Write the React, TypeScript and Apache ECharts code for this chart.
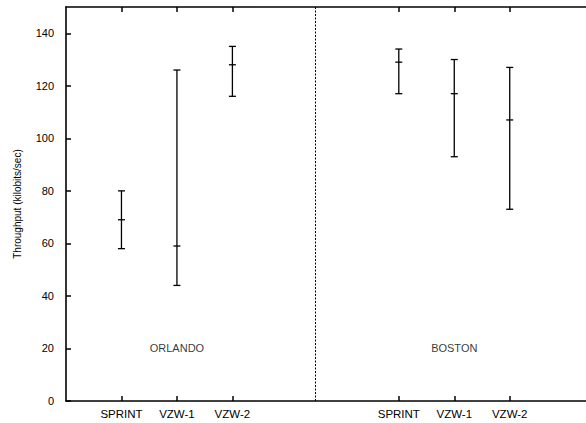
import React, { useEffect, useRef } from "react";
import * as echarts from "echarts";

const categories = ["SPRINT", "VZW-1", "VZW-2", "SPRINT", "VZW-1", "VZW-2"];
const positions = [1, 2, 3, 6, 7, 8];
const means = [69, 59, 128, 129, 117, 107];
const lows = [58, 44, 116, 117, 93, 73];
const highs = [80, 126, 135, 134, 130, 127];
const regions = ["ORLANDO", "BOSTON"];
const regionX = [2, 7];
const regionY = 20;
const yTicks = [0, 20, 40, 60, 80, 100, 120, 140];
const dividerX = 4.5;

export default function App() {
  const ref = useRef<HTMLDivElement>(null);
  useEffect(() => {
    if (!ref.current) return;
    const chart = echarts.init(ref.current, null, { renderer: "svg" });
    const font = "'Liberation Sans', Arial, sans-serif";
    const ink = "#000";
    const errData = positions.map((p, i) => [p, lows[i], highs[i], means[i]]);
    const xAxisBase = {
      type: "value" as const,
      min: 0,
      max: 9.375,
      splitLine: { show: false },
      axisLine: { show: true, onZero: false, lineStyle: { color: ink, width: 1.6 } },
      axisTick: {
        show: true,
        inside: true,
        length: 5,
        customValues: positions,
        lineStyle: { color: ink, width: 1.5 },
      },
    };
    chart.setOption({
      animation: false,
      grid: { left: 66, right: 0, top: 7, bottom: 22 },
      xAxis: [
        {
          ...xAxisBase,
          position: "bottom",
          axisLabel: {
            show: true,
            customValues: positions,
            formatter: (v: number) => categories[positions.indexOf(v)] ?? "",
            color: ink,
            fontSize: 11.5,
            fontFamily: font,
            margin: 7,
          },
        },
        {
          ...xAxisBase,
          position: "top",
          axisLabel: { show: false },
        },
      ],
      yAxis: {
        type: "value",
        position: "left",
        min: 0,
        max: 150,
        name: "Throughput (kilobits/sec)",
        nameLocation: "middle",
        nameGap: 44,
        nameTextStyle: { color: ink, fontSize: 10, fontFamily: font },
        splitLine: { show: false },
        axisLine: { show: true, onZero: false, lineStyle: { color: ink, width: 1.6 } },
        axisTick: {
          show: true,
          inside: true,
          length: 5,
          customValues: yTicks,
          lineStyle: { color: ink, width: 1.5 },
        },
        axisLabel: {
          customValues: yTicks,
          color: ink,
          fontSize: 11,
          fontFamily: font,
          margin: 12,
        },
      },
      series: [
        {
          type: "custom",
          data: errData,
          encode: { x: 0, y: [1, 2, 3] },
          renderItem: (params: any, api: any) => {
            const x = api.value(0);
            const lo = api.coord([x, api.value(1)]);
            const hi = api.coord([x, api.value(2)]);
            const mid = api.coord([x, api.value(3)]);
            const hw = 3.5;
            const style = { stroke: ink, lineWidth: 1.3 };
            return {
              type: "group",
              children: [
                { type: "line", shape: { x1: lo[0], y1: lo[1], x2: hi[0], y2: hi[1] }, style },
                { type: "line", shape: { x1: lo[0] - hw, y1: lo[1], x2: lo[0] + hw, y2: lo[1] }, style },
                { type: "line", shape: { x1: hi[0] - hw, y1: hi[1], x2: hi[0] + hw, y2: hi[1] }, style },
                { type: "line", shape: { x1: mid[0] - hw, y1: mid[1], x2: mid[0] + hw, y2: mid[1] }, style },
              ],
            };
          },
          markLine: {
            silent: true,
            symbol: "none",
            label: { show: false },
            lineStyle: { color: ink, type: [2, 1.5], width: 1 },
            data: [{ xAxis: dividerX }],
          },
        },
        {
          type: "scatter",
          symbolSize: 0,
          data: regions.map((r, i) => ({ name: r, value: [regionX[i], regionY] })),
          label: {
            show: true,
            position: "inside",
            formatter: (p: any) => p.name,
            color: ink,
            fontSize: 11,
            fontFamily: font,
          },
        },
      ],
    });
    return () => chart.dispose();
  }, []);
  return (
    <div
      ref={ref}
      style={{ position: "fixed", left: 0, top: 0, width: 586, height: 423, background: "#fff" }}
    />
  );
}
